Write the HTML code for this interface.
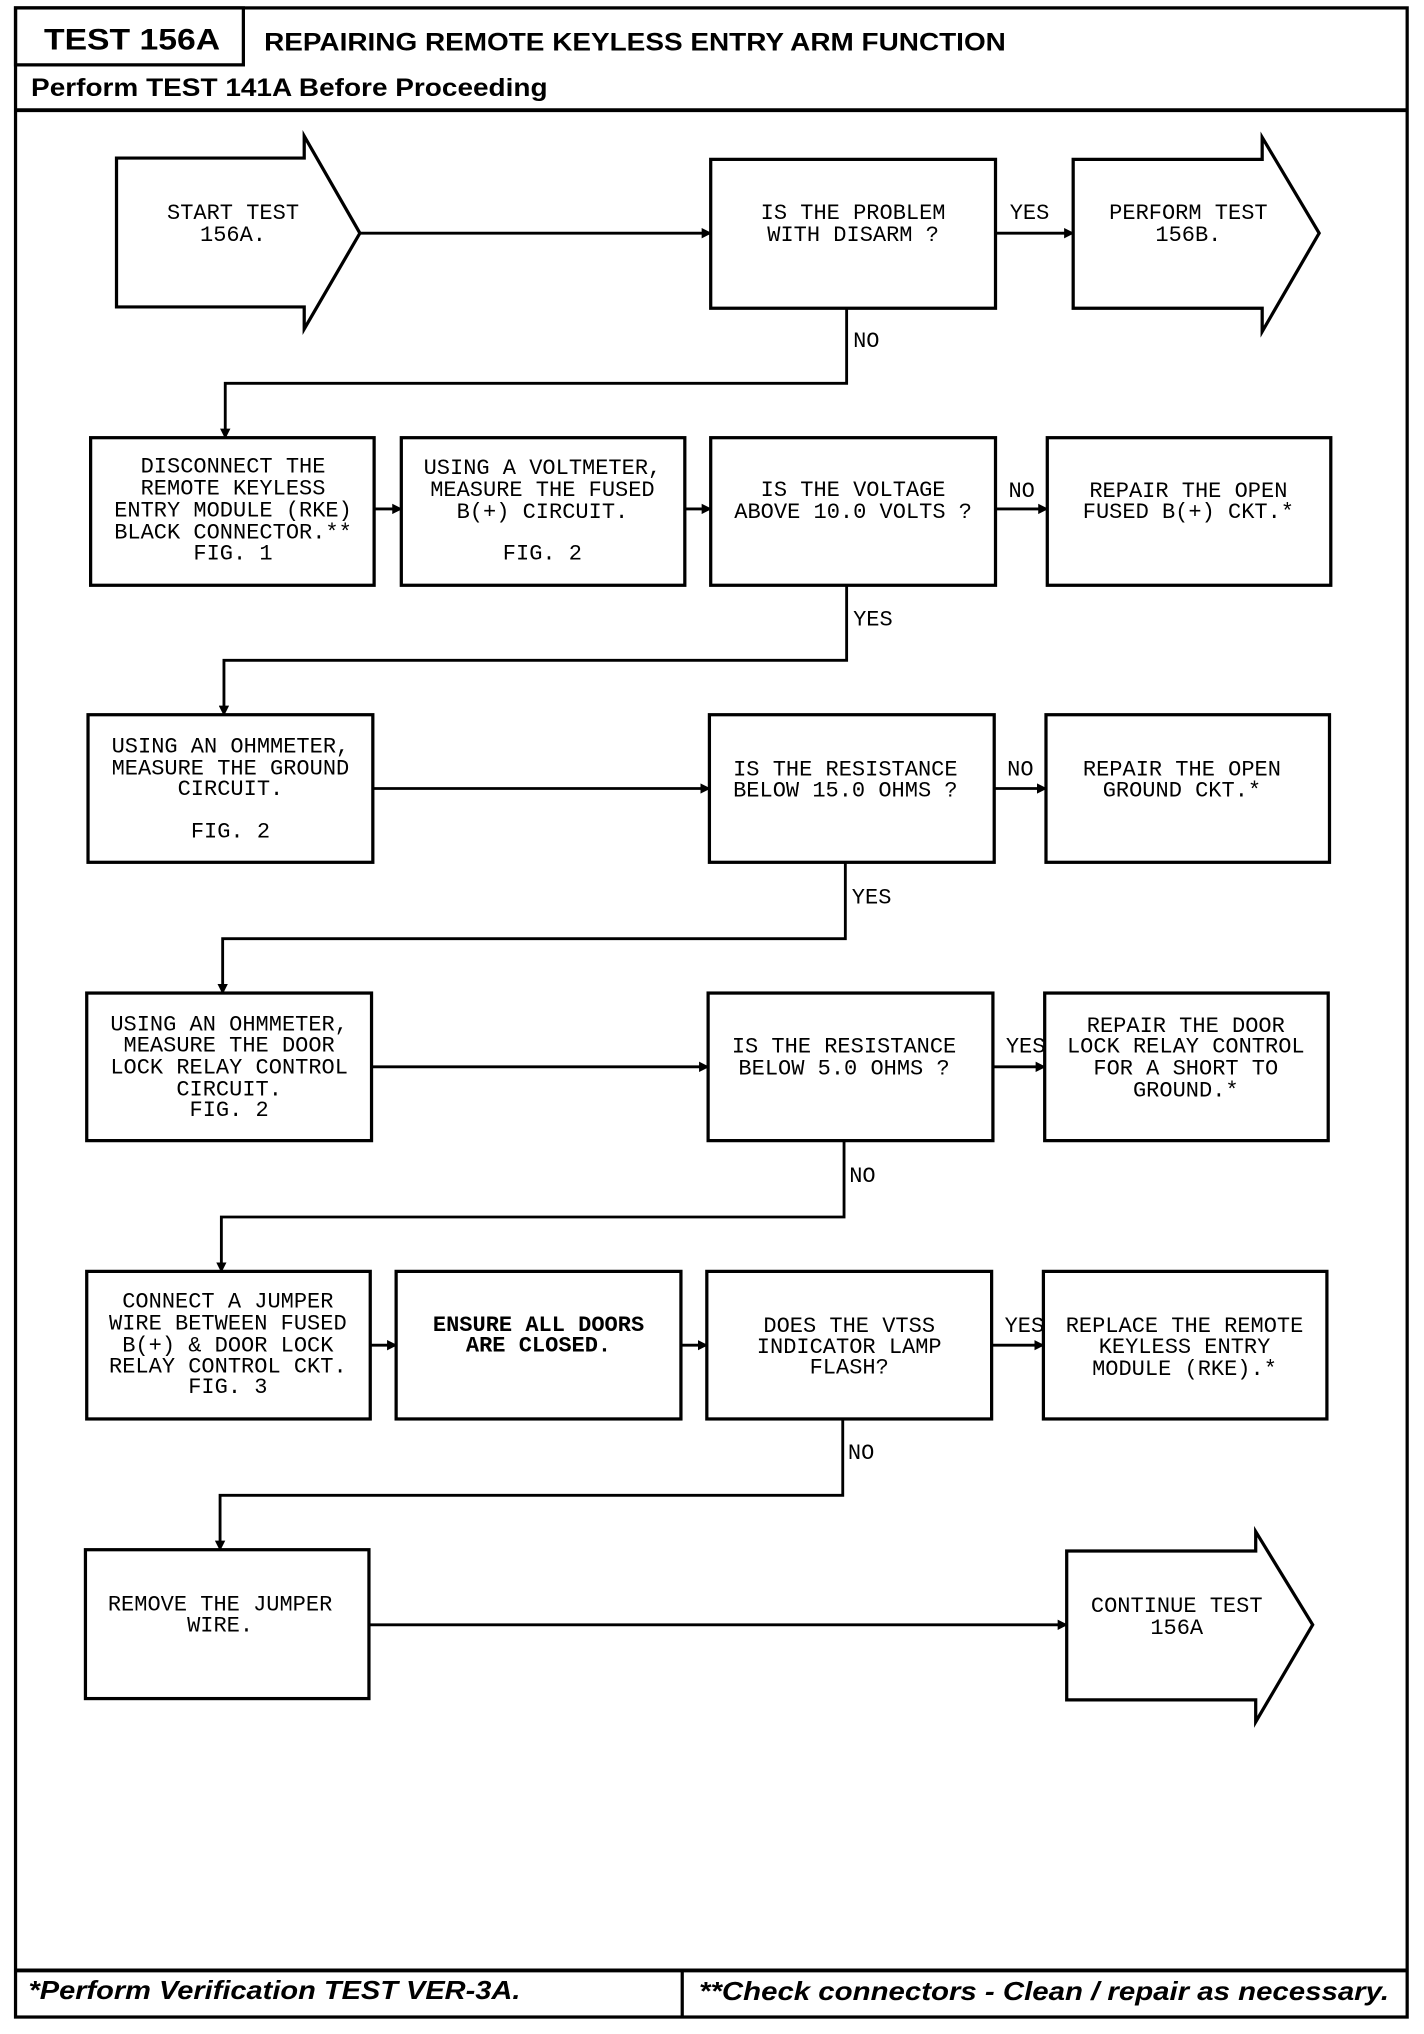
<!DOCTYPE html>
<html><head><meta charset="utf-8"><style>
html,body{margin:0;padding:0;background:#fff;}
svg{display:block;}
.t{font-family:"Liberation Mono",monospace;font-size:17px;text-anchor:middle;fill:#000;}
.l{font-family:"Liberation Mono",monospace;font-size:17px;fill:#000;}
.b{font-family:"Liberation Sans",sans-serif;font-weight:bold;fill:#000;}
</style></head><body>
<svg width="1424" height="2034" viewBox="0 0 1100 1571" xmlns="http://www.w3.org/2000/svg">
<defs><marker id="a" markerWidth="8" markerHeight="8" refX="7" refY="4" orient="auto" markerUnits="userSpaceOnUse"><path d="M0,0 L8,4 L0,8 z" fill="#000"/></marker></defs>
<g fill="none" stroke="#000" stroke-width="2.5">
<rect x="12" y="6" width="1075" height="1552"/>
<rect x="12" y="6" width="176" height="44"/>
<line x1="12" y1="85" x2="1087" y2="85" stroke-width="3"/>
<line x1="12" y1="1522" x2="1087" y2="1522" stroke-width="3"/>
<line x1="527" y1="1522" x2="527" y2="1558"/>
<polygon points="90,122 235,122 235,105 278,180 235,254 235,237 90,237"/>
<rect x="549" y="123" width="220" height="115"/>
<polygon points="829,123 975,123 975,106 1019,180 975,256 975,238 829,238"/>
<rect x="70" y="338" width="219" height="114"/>
<rect x="310" y="338" width="219" height="114"/>
<rect x="549" y="338" width="220" height="114"/>
<rect x="809" y="338" width="219" height="114"/>
<rect x="68" y="552" width="220" height="114"/>
<rect x="548" y="552" width="220" height="114"/>
<rect x="808" y="552" width="219" height="114"/>
<rect x="67" y="767" width="220" height="114"/>
<rect x="547" y="767" width="220" height="114"/>
<rect x="807" y="767" width="219" height="114"/>
<rect x="67" y="982" width="219" height="114"/>
<rect x="306" y="982" width="220" height="114"/>
<rect x="546" y="982" width="220" height="114"/>
<rect x="806" y="982" width="219" height="114"/>
<rect x="66" y="1197" width="219" height="115"/>
<polygon points="824,1198 970,1198 970,1183 1014,1255 970,1330 970,1313 824,1313"/>
</g>
<g fill="none" stroke="#000" stroke-width="2.2" marker-end="url(#a)">
<line x1="278" y1="180" x2="549" y2="180"/>
<line x1="769" y1="180" x2="829" y2="180"/>
<polyline points="654,238 654,296 174,296 174,338"/>
<line x1="289" y1="393" x2="310" y2="393"/>
<line x1="529" y1="393" x2="549" y2="393"/>
<line x1="769" y1="393" x2="809" y2="393"/>
<polyline points="654,452 654,510 173,510 173,552"/>
<line x1="288" y1="609" x2="548" y2="609"/>
<line x1="768" y1="609" x2="808" y2="609"/>
<polyline points="653,666 653,725 172,725 172,767"/>
<line x1="287" y1="824" x2="547" y2="824"/>
<line x1="767" y1="824" x2="807" y2="824"/>
<polyline points="652,881 652,940 171,940 171,982"/>
<line x1="286" y1="1039" x2="306" y2="1039"/>
<line x1="526" y1="1039" x2="546" y2="1039"/>
<line x1="766" y1="1039" x2="806" y2="1039"/>
<polyline points="651,1096 651,1155 170,1155 170,1197"/>
<line x1="285" y1="1255" x2="824" y2="1255"/>
</g>
<text class="b" x="34" y="38" font-size="23" textLength="136" lengthAdjust="spacingAndGlyphs">TEST 156A</text>
<text class="b" x="204" y="39" font-size="19" textLength="573" lengthAdjust="spacingAndGlyphs">REPAIRING REMOTE KEYLESS ENTRY ARM FUNCTION</text>
<text class="b" x="24" y="74" font-size="19" textLength="399" lengthAdjust="spacingAndGlyphs">Perform TEST 141A Before Proceeding</text>
<text class="b" x="22" y="1544" font-size="20" font-style="italic" textLength="380" lengthAdjust="spacingAndGlyphs">*Perform Verification TEST VER-3A.</text>
<text class="b" x="540" y="1545" font-size="20" font-style="italic" textLength="533" lengthAdjust="spacingAndGlyphs">**Check connectors - Clean / repair as necessary.</text>

<text class="t" x="180" y="169">START TEST</text><text class="t" x="180" y="186">156A.</text>
<text class="t" x="659" y="169">IS THE PROBLEM</text><text class="t" x="659" y="186">WITH DISARM ?</text>
<text class="l" x="780" y="169">YES</text>
<text class="t" x="918" y="169">PERFORM TEST</text><text class="t" x="918" y="186">156B.</text>
<text class="l" x="659" y="268">NO</text>

<g class="t">
<text class="t" x="180" y="365">DISCONNECT THE</text><text class="t" x="180" y="382">REMOTE KEYLESS</text><text class="t" x="180" y="399">ENTRY MODULE (RKE)</text><text class="t" x="180" y="416">BLACK CONNECTOR.**</text><text class="t" x="180" y="432">FIG. 1</text>
<text class="t" x="419" y="366">USING A VOLTMETER,</text><text class="t" x="419" y="383">MEASURE THE FUSED</text><text class="t" x="419" y="400">B(+) CIRCUIT.</text><text class="t" x="419" y="432">FIG. 2</text>
<text class="t" x="659" y="383">IS THE VOLTAGE</text><text class="t" x="659" y="400">ABOVE 10.0 VOLTS ?</text>
<text class="t" x="918" y="384">REPAIR THE OPEN</text><text class="t" x="918" y="400">FUSED B(+) CKT.*</text>
</g>
<text class="l" x="779" y="384">NO</text>
<text class="l" x="659" y="483">YES</text>

<text class="t" x="178" y="581">USING AN OHMMETER,</text><text class="t" x="178" y="598">MEASURE THE GROUND</text><text class="t" x="178" y="614">CIRCUIT.</text><text class="t" x="178" y="647">FIG. 2</text>
<text class="t" x="653" y="599">IS THE RESISTANCE</text><text class="t" x="653" y="615">BELOW 15.0 OHMS ?</text>
<text class="t" x="913" y="599">REPAIR THE OPEN</text><text class="t" x="913" y="615">GROUND CKT.*</text>
<text class="l" x="778" y="599">NO</text>
<text class="l" x="658" y="698">YES</text>

<text class="t" x="177" y="796">USING AN OHMMETER,</text><text class="t" x="177" y="812">MEASURE THE DOOR</text><text class="t" x="177" y="829">LOCK RELAY CONTROL</text><text class="t" x="177" y="846">CIRCUIT.</text><text class="t" x="177" y="862">FIG. 2</text>
<text class="t" x="652" y="813">IS THE RESISTANCE</text><text class="t" x="652" y="830">BELOW 5.0 OHMS ?</text>
<text class="t" x="916" y="797">REPAIR THE DOOR</text><text class="t" x="916" y="813">LOCK RELAY CONTROL</text><text class="t" x="916" y="830">FOR A SHORT TO</text><text class="t" x="916" y="847">GROUND.*</text>
<text class="l" x="777" y="813">YES</text>
<text class="l" x="656" y="913">NO</text>

<text class="t" x="176" y="1010">CONNECT A JUMPER</text><text class="t" x="176" y="1027">WIRE BETWEEN FUSED</text><text class="t" x="176" y="1044">B(+) &amp; DOOR LOCK</text><text class="t" x="176" y="1060">RELAY CONTROL CKT.</text><text class="t" x="176" y="1076">FIG. 3</text>
<text class="t" x="416" y="1028" font-weight="bold">ENSURE ALL DOORS</text><text class="t" x="416" y="1044" font-weight="bold">ARE CLOSED.</text>
<text class="t" x="656" y="1029">DOES THE VTSS</text><text class="t" x="656" y="1045">INDICATOR LAMP</text><text class="t" x="656" y="1061">FLASH?</text>
<text class="t" x="915" y="1029">REPLACE THE REMOTE</text><text class="t" x="915" y="1045">KEYLESS ENTRY</text><text class="t" x="915" y="1062">MODULE (RKE).*</text>
<text class="l" x="776" y="1029">YES</text>
<text class="l" x="655" y="1127">NO</text>

<text class="t" x="170" y="1244">REMOVE THE JUMPER</text><text class="t" x="170" y="1260">WIRE.</text>
<text class="t" x="909" y="1245">CONTINUE TEST</text><text class="t" x="909" y="1262">156A</text>
</svg>
</body></html>
